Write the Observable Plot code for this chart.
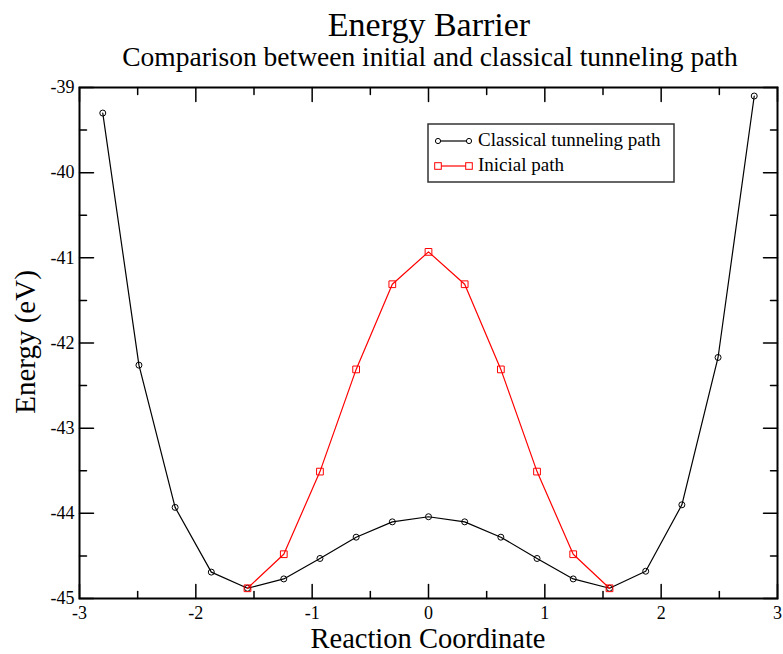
<!DOCTYPE html>
<html><head><meta charset="utf-8">
<script src="https://cdn.jsdelivr.net/npm/d3@7"></script>
<script src="https://cdn.jsdelivr.net/npm/@observablehq/plot@0.6"></script>
<style>
body{margin:0;background:#fff;}
#chart{position:relative;width:783px;height:654px;}
</style></head><body><div id="chart"></div>
<script>
const classicalX = [-2.8, -2.489, -2.178, -1.867, -1.556, -1.244, -0.933, -0.622, -0.311, 0, 0.311, 0.622, 0.933, 1.244, 1.556, 1.867, 2.178, 2.489, 2.8];
const classicalE = [-39.30, -42.26, -43.93, -44.69, -44.88, -44.77, -44.53, -44.28, -44.10, -44.04, -44.10, -44.28, -44.53, -44.77, -44.88, -44.68, -43.90, -42.17, -39.10];
const initialX = [-1.556, -1.244, -0.933, -0.622, -0.311, 0, 0.311, 0.622, 0.933, 1.244, 1.556];
const initialE = [-44.88, -44.48, -43.51, -42.31, -41.31, -40.93, -41.31, -42.31, -43.51, -44.48, -44.88];
const xMajor = [-3, -2, -1, 0, 1, 2, 3];
const xMinor = [-2.5, -1.5, -0.5, 0.5, 1.5, 2.5];
const yMajor = [-45, -44, -43, -42, -41, -40, -39];
const yMinor = [-44.5, -43.5, -42.5, -41.5, -40.5, -39.5];
const seriesNames = ["Classical tunneling path", "Inicial path"];
const titleText = "Energy Barrier";
const subtitleText = "Comparison between initial and classical tunneling path";
const xLabel = "Reaction Coordinate";
const yLabel = "Energy (eV)";

const classical = classicalX.map((x, i) => ({x, e: classicalE[i]}));
const initial = initialX.map((x, i) => ({x, e: initialE[i]}));

const tickShape = {draw(ctx, l) { ctx.moveTo(0, 0); ctx.lineTo(0, -l); }};
function tickMarks(values, dim, anchor, rotate, len) {
  const o = {frameAnchor: anchor, rotate, length: len, anchor: "start", shape: tickShape, stroke: "black", strokeWidth: 1.5};
  o[dim] = d => d;
  return Plot.vector(values, o);
}

const serif = "'Liberation Serif', 'Times New Roman', serif";
const plot = Plot.plot({
  width: 783, height: 654,
  marginLeft: 79, marginRight: 6, marginTop: 87, marginBottom: 56,
  x: {domain: [-3, 3]},
  y: {domain: [-45, -39]},
  style: {fontFamily: serif, fontSize: "18px", color: "black", background: "white"},
  marks: [
    Plot.axisX(xMajor, {tickSize: 0, tickPadding: 8, label: null, fontSize: 18, tickFormat: d => String(d)}),
    Plot.axisY(yMajor, {tickSize: 0, tickPadding: 5, label: null, fontSize: 18, tickFormat: d => String(d)}),
    tickMarks(xMajor, "x", "bottom", 0, 14),
    tickMarks(xMinor, "x", "bottom", 0, 7),
    tickMarks(xMajor, "x", "top", 180, 14),
    tickMarks(xMinor, "x", "top", 180, 7),
    tickMarks(yMajor, "y", "left", 90, 14),
    tickMarks(yMinor, "y", "left", 90, 7),
    tickMarks(yMajor, "y", "right", -90, 14),
    tickMarks(yMinor, "y", "right", -90, 7),
    Plot.line(classical, {x: "x", y: "e", stroke: "black", strokeWidth: 1.2}),
    Plot.dot(classical, {x: "x", y: "e", r: 3, stroke: "black", fill: "none", strokeWidth: 1}),
    Plot.line(initial, {x: "x", y: "e", stroke: "#ff0000", strokeWidth: 1.2}),
    Plot.dot(initial, {x: "x", y: "e", symbol: "square", r: 3.8, stroke: "#ff0000", fill: "none", strokeWidth: 1}),
    Plot.frame({stroke: "black", strokeWidth: 2})
  ]
});

const svg = d3.select(plot);
svg.append("text").attr("x", 429).attr("y", 36).attr("text-anchor", "middle").attr("font-size", 34).attr("fill", "black").text(titleText);
svg.append("text").attr("x", 430).attr("y", 66).attr("text-anchor", "middle").attr("font-size", 27.5).attr("fill", "black").text(subtitleText);
svg.append("text").attr("x", 428).attr("y", 648).attr("text-anchor", "middle").attr("font-size", 28.5).attr("fill", "black").text(xLabel);
svg.append("text").attr("transform", "translate(35,342) rotate(-90)").attr("text-anchor", "middle").attr("font-size", 29).attr("fill", "black").text(yLabel);

// legend
const lg = svg.append("g");
lg.append("rect").attr("x", 428).attr("y", 124).attr("width", 246).attr("height", 58).attr("fill", "white").attr("stroke", "#333").attr("stroke-width", 1.5);
const rows = [{y: 141, color: "black", sym: "circle"}, {y: 166, color: "#ff0000", sym: "square"}];
rows.forEach((r, i) => {
  lg.append("line").attr("x1", 438).attr("x2", 469).attr("y1", r.y).attr("y2", r.y).attr("stroke", r.color).attr("stroke-width", 1.2);
  [438, 469].forEach(cx => {
    if (r.sym === "circle") lg.append("circle").attr("cx", cx).attr("cy", r.y).attr("r", 2.6).attr("fill", "white").attr("stroke", r.color);
    else lg.append("rect").attr("x", cx - 3.3).attr("y", r.y - 3.3).attr("width", 6.6).attr("height", 6.6).attr("fill", "white").attr("stroke", r.color);
  });
  lg.append("text").attr("x", 478).attr("y", r.y + 5).attr("text-anchor", "start").attr("font-size", 19).attr("fill", "black").text(seriesNames[i]);
});

document.getElementById("chart").appendChild(plot);
</script></body></html>
